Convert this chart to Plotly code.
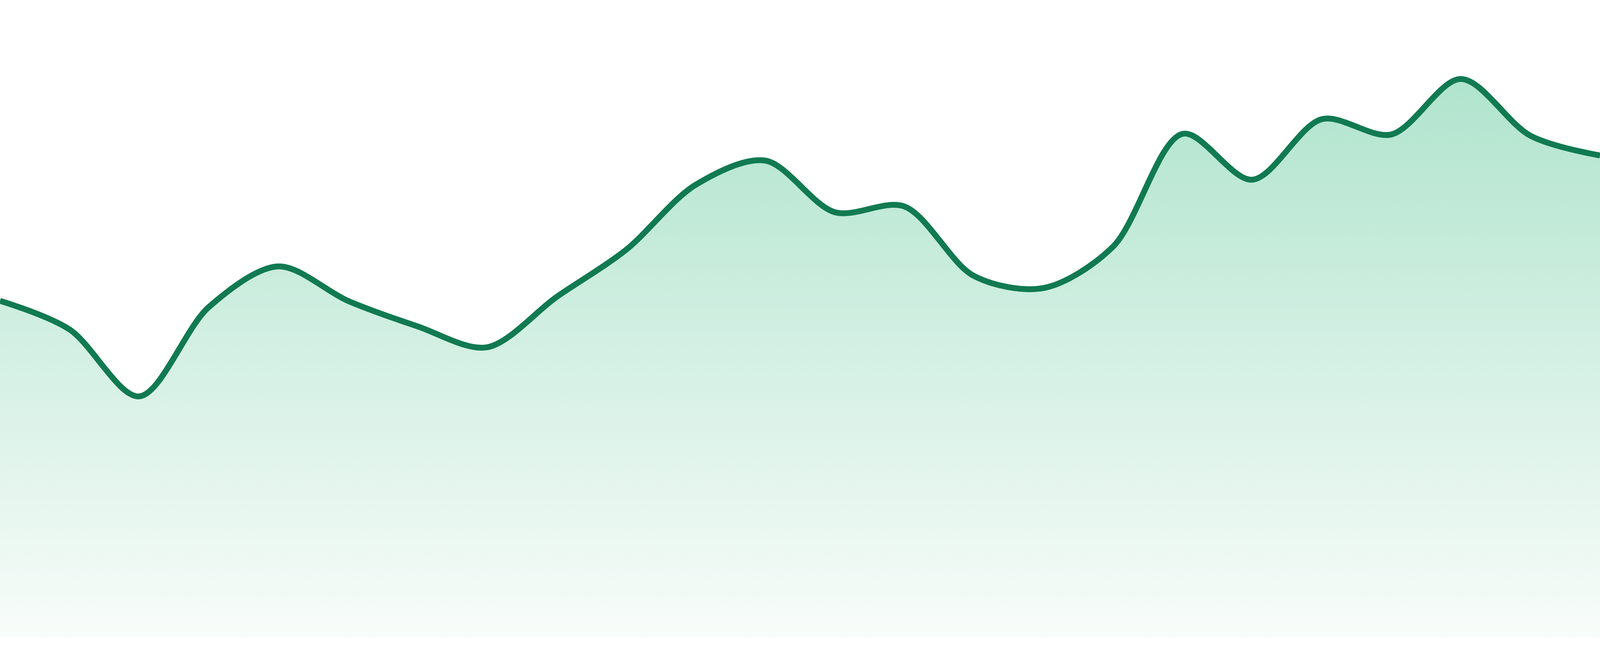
import plotly.graph_objects as go

# 24 evenly spaced samples (axis 0..100)
steps = list(range(24))
values = [
    52.8, 48.3, 37.8, 51.8, 58.2, 52.8, 48.8, 45.5, 53.4, 60.8, 71.0, 74.8,
    66.7, 67.6, 56.7, 54.8, 61.3, 79.0, 71.8, 81.3, 78.9, 87.6, 78.7, 75.6,
]

LINE = "#117a51"
FILL_TOP = "#b0e4cd"
FILL_BOTTOM = "#f8fcfa"

fig = go.Figure()
fig.add_trace(
    go.Scatter(
        x=steps, y=values, mode="lines",
        line=dict(color=LINE, width=15, shape="spline", smoothing=0.9),
        fill="tozeroy",
        fillgradient=dict(
            type="vertical",
            colorscale=[[0, FILL_BOTTOM], [1, FILL_TOP]],
            start=0, stop=max(values),
        ),
        hoverinfo="skip", showlegend=False,
    )
)

# plot area fills the whole page; the white strip under the fill comes from
# the y range starting a bit below zero
fig.update_layout(
    autosize=True,
    margin=dict(l=0, r=0, t=0, b=0),
    paper_bgcolor="#ffffff", plot_bgcolor="#ffffff",
)
fig.update_xaxes(visible=False, range=[0, 23])
fig.update_yaxes(visible=False, range=[-2.94, 100])

fig.write_html(
    "out.html",
    default_width="100vw",
    default_height="100vh",
    config={"displayModeBar": False, "responsive": True},
    post_script="document.body.style.margin='0';document.body.style.overflow='hidden';",
)
